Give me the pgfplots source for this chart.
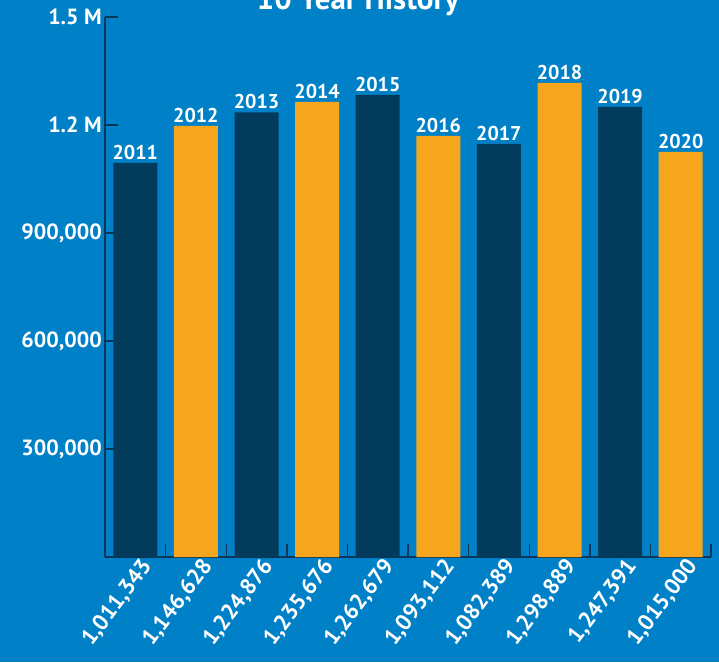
\documentclass[border=0pt]{standalone}
\usepackage{pgfplots}
\pgfplotsset{compat=1.18}
\usepackage{fontspec}
\setmainfont{PT Sans}
\definecolor{bgblue}{RGB}{0,129,199}
\definecolor{navy}{RGB}{3,59,92}
\definecolor{axnavy}{RGB}{10,55,90}
\definecolor{gold}{RGB}{246,165,28}
\begin{document}
\begin{tikzpicture}
\fill[bgblue] (0,0) rectangle (719pt,662pt);
\begin{axis}[
  at={(105pt,105pt)}, anchor=south west,
  scale only axis, width=606pt, height=540pt,
  xmin=-0.5, xmax=9.5, ymin=0, ymax=1500000,
  axis x line*=bottom, axis y line*=left,
  axis line style={-, axnavy, line width=1.6pt},
  every tick/.style={axnavy, line width=1.4pt},
  xtick align=outside, ytick align=outside,
  xtick pos=bottom, ytick pos=left,
  xtick={-0.5,0.5,...,9.5}, xticklabels={},
  major tick length=-13pt,
  extra x ticks={0,...,9},
  extra x tick style={major tick length=0pt, tick style={draw=none}},
  extra x tick labels={{1,011,343},{1,146,628},{1,224,876},{1,235,676},{1,262,679},{1,093,112},{1,082,389},{1,298,889},{1,247,391},{1,015,000}},
  xticklabel style={font=\fontsize{22.5}{22.5}\selectfont\bfseries, text=white, rotate=53, anchor=north east, inner sep=1pt, xshift=4pt, yshift=-2pt},
  ytick={300000,600000,900000,1200000,1500000},
  yticklabels={{300,000},{600,000},{900,000},{1.2 M},{1.5 M}},
  yticklabel style={font=\fontsize{22}{22}\selectfont\bfseries, text=white, inner sep=2pt, xshift=-14pt},
  scaled ticks=false,
  ybar, bar width=44pt, bar shift=0pt,
  nodes near coords, point meta=explicit symbolic,
  every node near coord/.append style={font=\fontsize{20}{20}\selectfont\bfseries, text=white, anchor=south, inner sep=2pt, yshift=1pt},
  clip=false,
]
\addplot[fill=navy, draw=none] coordinates {(0,1094444) [2011] (2,1235278) [2013] (4,1283333) [2015] (6,1147222) [2017] (8,1250000) [2019]};
\addplot[fill=gold, draw=none] coordinates {(1,1197222) [2012] (3,1263889) [2014] (5,1169444) [2016] (7,1316667) [2018] (9,1125000) [2020]};
\end{axis}
\node[anchor=base, text=white, font=\fontsize{31}{31}\selectfont\bfseries] at (358pt,652pt) {10 Year History};
\pgfresetboundingbox
\useasboundingbox (0,0) rectangle (719pt,662pt);
\end{tikzpicture}
\end{document}
